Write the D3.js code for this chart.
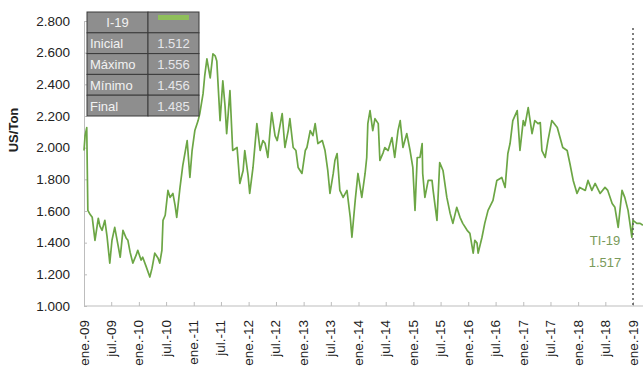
<!DOCTYPE html>
<html>
<head>
<meta charset="utf-8">
<script src="https://cdn.jsdelivr.net/npm/d3@7"></script>
<style>
  body { margin: 0; background: #fff; }
  svg { display: block; }
</style>
</head>
<body>
<div id="chart"></div>
<script>
// series: time as decimal years, price in US$/ton
const years = [
  2009.00, 2009.02, 2009.05, 2009.07, 2009.11, 2009.15, 2009.20, 2009.26, 2009.29, 2009.33,
  2009.38, 2009.42, 2009.47, 2009.51, 2009.56, 2009.62, 2009.66, 2009.71, 2009.77, 2009.80,
  2009.84, 2009.89, 2009.95, 2009.98, 2010.04, 2010.07, 2010.13, 2010.20, 2010.24, 2010.29,
  2010.35, 2010.38, 2010.42, 2010.44, 2010.48, 2010.53, 2010.57, 2010.62, 2010.66, 2010.69,
  2010.75, 2010.80, 2010.88, 2010.93, 2010.97, 2011.02, 2011.08, 2011.11, 2011.17, 2011.20,
  2011.24, 2011.30, 2011.35, 2011.39, 2011.42, 2011.48, 2011.53, 2011.57, 2011.60, 2011.66,
  2011.71, 2011.79, 2011.84, 2011.90, 2011.93, 2011.99, 2012.02, 2012.08, 2012.15, 2012.21,
  2012.26, 2012.30, 2012.35, 2012.39, 2012.42, 2012.48, 2012.52, 2012.57, 2012.61, 2012.66,
  2012.72, 2012.75, 2012.81, 2012.86, 2012.90, 2012.97, 2013.03, 2013.06, 2013.12, 2013.17,
  2013.21, 2013.26, 2013.34, 2013.39, 2013.44, 2013.48, 2013.54, 2013.57, 2013.61, 2013.66,
  2013.72, 2013.79, 2013.85, 2013.88, 2013.94, 2013.99, 2014.06, 2014.12, 2014.15, 2014.17,
  2014.21, 2014.26, 2014.30, 2014.36, 2014.39, 2014.45, 2014.48, 2014.54, 2014.61, 2014.66,
  2014.72, 2014.76, 2014.81, 2014.88, 2014.94, 2014.99, 2015.03, 2015.07, 2015.12, 2015.16,
  2015.17, 2015.21, 2015.27, 2015.34, 2015.36, 2015.43, 2015.48, 2015.54, 2015.61, 2015.67,
  2015.72, 2015.79, 2015.85, 2015.90, 2015.98, 2016.03, 2016.09, 2016.12, 2016.16, 2016.18,
  2016.25, 2016.30, 2016.36, 2016.45, 2016.52, 2016.61, 2016.67, 2016.72, 2016.76, 2016.81,
  2016.89, 2016.94, 2017.00, 2017.03, 2017.09, 2017.16, 2017.21, 2017.27, 2017.31, 2017.34,
  2017.40, 2017.45, 2017.52, 2017.62, 2017.67, 2017.72, 2017.80, 2017.85, 2017.91, 2017.98,
  2018.03, 2018.13, 2018.18, 2018.25, 2018.31, 2018.40, 2018.49, 2018.54, 2018.62, 2018.67,
  2018.73, 2018.80, 2018.85, 2018.91, 2018.98, 2019.00, 2019.07, 2019.13, 2019.18
];
const prices = [
  1982, 2076, 2127, 1604, 1579, 1560, 1415, 1554, 1504, 1478,
  1541, 1440, 1271, 1415, 1497, 1384, 1308, 1478, 1428, 1415,
  1340, 1271, 1321, 1352, 1290, 1308, 1252, 1183, 1239, 1334,
  1302, 1271, 1352, 1541, 1573, 1730, 1686, 1711, 1636, 1560,
  1749, 1887, 2045, 1812, 1982, 2108, 2171, 2215, 2341, 2454,
  2561, 2441, 2592, 2580, 2548, 2171, 2422, 2265, 2089, 2360,
  1982, 2001, 1774, 1856, 1982, 1825, 1711, 1875, 2152, 1982,
  2045, 2026, 1938, 2108, 2221, 2076, 2045, 2139, 2215, 2001,
  2108, 2183, 2001, 1982, 1875, 1837, 1982, 2001, 2108, 2076,
  2152, 2026, 2045, 1982, 1856, 1711, 1837, 1919, 1963, 1730,
  1686, 1730, 1560, 1434, 1667, 1837, 1686, 1837, 1938, 2152,
  2234, 2108, 2183, 2152, 1919, 1969, 2001, 1982, 2064, 1938,
  2108, 2171, 2001, 2089, 1982, 1875, 1604, 1938, 1938, 2026,
  1837, 1686, 1793, 1793, 1730, 1541, 1906, 1856, 1686, 1585,
  1522, 1623, 1560, 1522, 1478, 1459, 1334, 1415, 1397, 1334,
  1434, 1522, 1604, 1667, 1793, 1812, 1749, 1963, 2026, 2171,
  2234, 1982, 2171, 2139, 2253, 2089, 2171, 2152, 2158, 1982,
  1938, 2045, 2171, 2127, 2064, 2001, 1982, 1900, 1793, 1711,
  1749, 1730, 1793, 1730, 1774, 1711, 1749, 1730, 1648, 1623,
  1497, 1730, 1686, 1604, 1434, 1541, 1522, 1522, 1510
];

const yTicks = [1000, 1200, 1400, 1600, 1800, 2000, 2200, 2400, 2600, 2800];
const xTickLabels = [
  "ene.-09", "jul.-09", "ene.-10", "jul.-10", "ene.-11", "jul.-11", "ene.-12",
  "jul.-12", "ene.-13", "jul.-13", "ene.-14", "jul.-14", "ene.-15", "jul.-15",
  "ene.-16", "jul.-16", "ene.-17", "jul.-17", "ene.-18", "jul.-18", "ene.-19"
];
const tableTitle = "I-19";
const tableLabels = ["Inicial", "Máximo", "Mínimo", "Final"];
const tableValues = [1512, 1556, 1456, 1485];
const noteLabel = "TI-19";
const noteValue = 1517;

const width = 643, height = 367;
const font = "'Liberation Sans', Arial, sans-serif";
const lineColor = "#6ca645";

const locale = d3.formatLocale({ decimal: ",", thousands: ".", grouping: [3], currency: ["$", ""] });
const fmt = locale.format(",d");

// decimal year -> Date
const toDate = t => {
  const y = Math.floor(t);
  const a = new Date(y, 0, 1), b = new Date(y + 1, 0, 1);
  return new Date(+a + (t - y) * (b - a));
};
const data = years.map((t, i) => ({ date: toDate(t), value: prices[i] }));

const svg = d3.select("#chart").append("svg")
  .attr("width", width)
  .attr("height", height)
  .attr("font-family", font);

const x = d3.scaleTime()
  .domain([new Date(2009, 0, 1), new Date(2019, 0, 1)])
  .range([84, 633]);
const y = d3.scaleLinear()
  .domain([1000, 2800])
  .range([306, 21]);

const tickDates = d3.timeMonth.every(6).range(new Date(2009, 0, 1), new Date(2019, 0, 2));

// y axis
const yAxis = svg.append("g")
  .attr("transform", "translate(84,0)")
  .call(d3.axisLeft(y).tickValues(yTicks).tickSizeInner(-3).tickSizeOuter(0).tickPadding(14).tickFormat(fmt));
yAxis.select(".domain").attr("stroke", "#bdbdbd");
yAxis.selectAll(".tick line").attr("stroke", "#bdbdbd");
yAxis.selectAll(".tick text")
  .attr("font-size", 13.5)
  .attr("font-family", font)
  .attr("fill", "#222");

// x axis
const xAxis = svg.append("g")
  .attr("transform", "translate(0,306)")
  .call(d3.axisBottom(x).tickValues(tickDates).tickSizeInner(-4).tickSizeOuter(0).tickFormat((d, i) => xTickLabels[i]));
xAxis.select(".domain").remove();
xAxis.insert("line", ":first-child")
  .attr("x1", 84).attr("x2", width)
  .attr("stroke", "#bdbdbd");
xAxis.selectAll(".tick line").attr("stroke", "#bdbdbd");
xAxis.selectAll(".tick text")
  .attr("font-size", 13.5)
  .attr("font-family", font)
  .attr("fill", "#222")
  .attr("text-anchor", "end")
  .attr("dy", null)
  .attr("y", 0)
  .attr("transform", "translate(4,14) rotate(-90)");

// axis title
svg.append("text")
  .attr("transform", "translate(18,130) rotate(-90)")
  .attr("text-anchor", "middle")
  .attr("font-size", 13)
  .attr("font-weight", "bold")
  .attr("fill", "#222")
  .text("US/Ton");

// price line
svg.append("path")
  .datum(data)
  .attr("fill", "none")
  .attr("stroke", lineColor)
  .attr("stroke-width", 1.7)
  .attr("stroke-linejoin", "round")
  .attr("d", d3.line().x(d => x(d.date)).y(d => y(d.value)));

// dotted marker at ene-19
const xEnd = x(new Date(2019, 0, 1));
svg.append("line")
  .attr("x1", xEnd).attr("x2", xEnd)
  .attr("y1", 28).attr("y2", 306)
  .attr("stroke", "#555")
  .attr("stroke-width", 1.5)
  .attr("stroke-dasharray", "2,3");

// note
const note = svg.append("g")
  .attr("font-size", 13)
  .attr("fill", "#7a9a5a")
  .attr("text-anchor", "middle");
note.append("text").attr("x", 605).attr("y", 245).text(noteLabel);
note.append("text").attr("x", 605).attr("y", 267).text(fmt(noteValue));

// summary table
const tx = 87, tw = [61, 51], rh = 20.8, ty = 12;
const rows = [[tableTitle, null]].concat(tableLabels.map((l, i) => [l, fmt(tableValues[i])]));
const table = svg.append("g");
const row = table.selectAll("g.row").data(rows).join("g")
  .attr("class", "row")
  .attr("transform", (d, i) => `translate(${tx},${ty + i * rh})`);
row.append("rect")
  .attr("width", tw[0]).attr("height", rh)
  .attr("fill", "#8e8e8e").attr("stroke", "#3a3a3a");
row.append("rect")
  .attr("x", tw[0]).attr("width", tw[1]).attr("height", rh)
  .attr("fill", "#8e8e8e").attr("stroke", "#3a3a3a");
row.append("text")
  .attr("x", (d, i) => i === 0 ? tw[0] / 2 : 3)
  .attr("y", rh / 2 + 5)
  .attr("text-anchor", (d, i) => i === 0 ? "middle" : "start")
  .attr("font-size", 13)
  .attr("fill", "#f2f2f2")
  .text(d => d[0]);
row.append("text")
  .attr("x", tw[0] + tw[1] / 2)
  .attr("y", rh / 2 + 5)
  .attr("text-anchor", "middle")
  .attr("font-size", 13)
  .attr("fill", "#e6e6ea")
  .text(d => d[1] || "");
// green key in header
table.append("rect")
  .attr("x", tx + tw[0] + 10).attr("y", ty + 3)
  .attr("width", tw[1] - 20).attr("height", 5)
  .attr("fill", "#8fbf5a");
</script>
</body>
</html>
